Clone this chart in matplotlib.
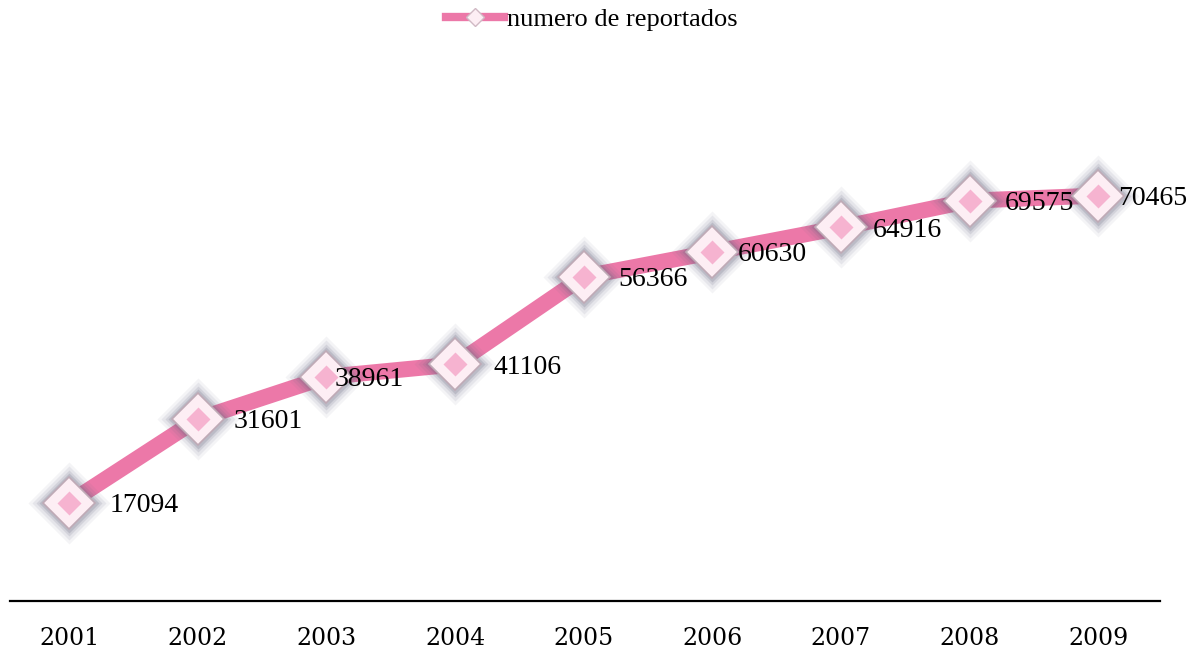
import matplotlib
matplotlib.use("Agg")
import matplotlib.pyplot as plt
from matplotlib.lines import Line2D

# data
years = ["2001", "2002", "2003", "2004", "2005", "2006", "2007", "2008", "2009"]
reportados = [17094, 31601, 38961, 41106, 56366, 60630, 64916, 69575, 70465]
series_name = "numero de reportados"

# label x offsets (points) to mimic the original placement
label_dx = [29, 26, 6, 28, 25, 18, 23, 25, 14]

line_color = "#ec78a8"

fig = plt.figure(figsize=(11.91, 6.52), dpi=100)
ax = fig.add_axes([10 / 1191, 51 / 652, 1150 / 1191, 561 / 652])

x = list(range(len(years)))
ax.plot(x, reportados, color=line_color, lw=11.5, solid_capstyle="round",
        solid_joinstyle="round", zorder=2)

# soft grey glow behind each marker
for ms, a in [(42, 0.07), (38, 0.10), (34, 0.15), (31, 0.22)]:
    ax.plot(x, reportados, ls="none", marker="D", ms=ms, color="#6a6a82",
            alpha=a, mec="none", zorder=3)
ax.plot(x, reportados, ls="none", marker="D", ms=26, mfc="#fdeef4",
        mec="#bfaab6", mew=1.2, zorder=4)
ax.plot(x, reportados, ls="none", marker="D", ms=12, color="#f5a9ca",
        mec="none", alpha=0.85, zorder=5)

for i, v in enumerate(reportados):
    ax.annotate(str(v), (i, v), xytext=(label_dx[i], -2), textcoords="offset points",
                ha="left", va="center", fontsize=20, family="Liberation Serif",
                color="black", zorder=6)

ax.set_xlim(-0.46, 8.48)
ax.set_ylim(0, 97500)
ax.set_xticks(x)
ax.set_xticklabels(years, family="DejaVu Serif", fontsize=17)
ax.tick_params(axis="x", length=0, pad=19)
ax.set_yticks([])
for s in ["top", "left", "right"]:
    ax.spines[s].set_visible(False)
ax.spines["bottom"].set_linewidth(1.6)
ax.spines["bottom"].set_color("black")

handle = Line2D([], [], color=line_color, lw=6, marker="D", ms=9,
                mfc="#fdeef4", mec="#d0b9c4")
fig.legend([handle], [series_name], loc="upper center", bbox_to_anchor=(0.497, 1.012),
           frameon=False, prop={"family": "Liberation Serif", "size": 19},
           handlelength=2.2, handletextpad=0.1, borderaxespad=0.2)

fig.savefig("out.png", dpi=100)
